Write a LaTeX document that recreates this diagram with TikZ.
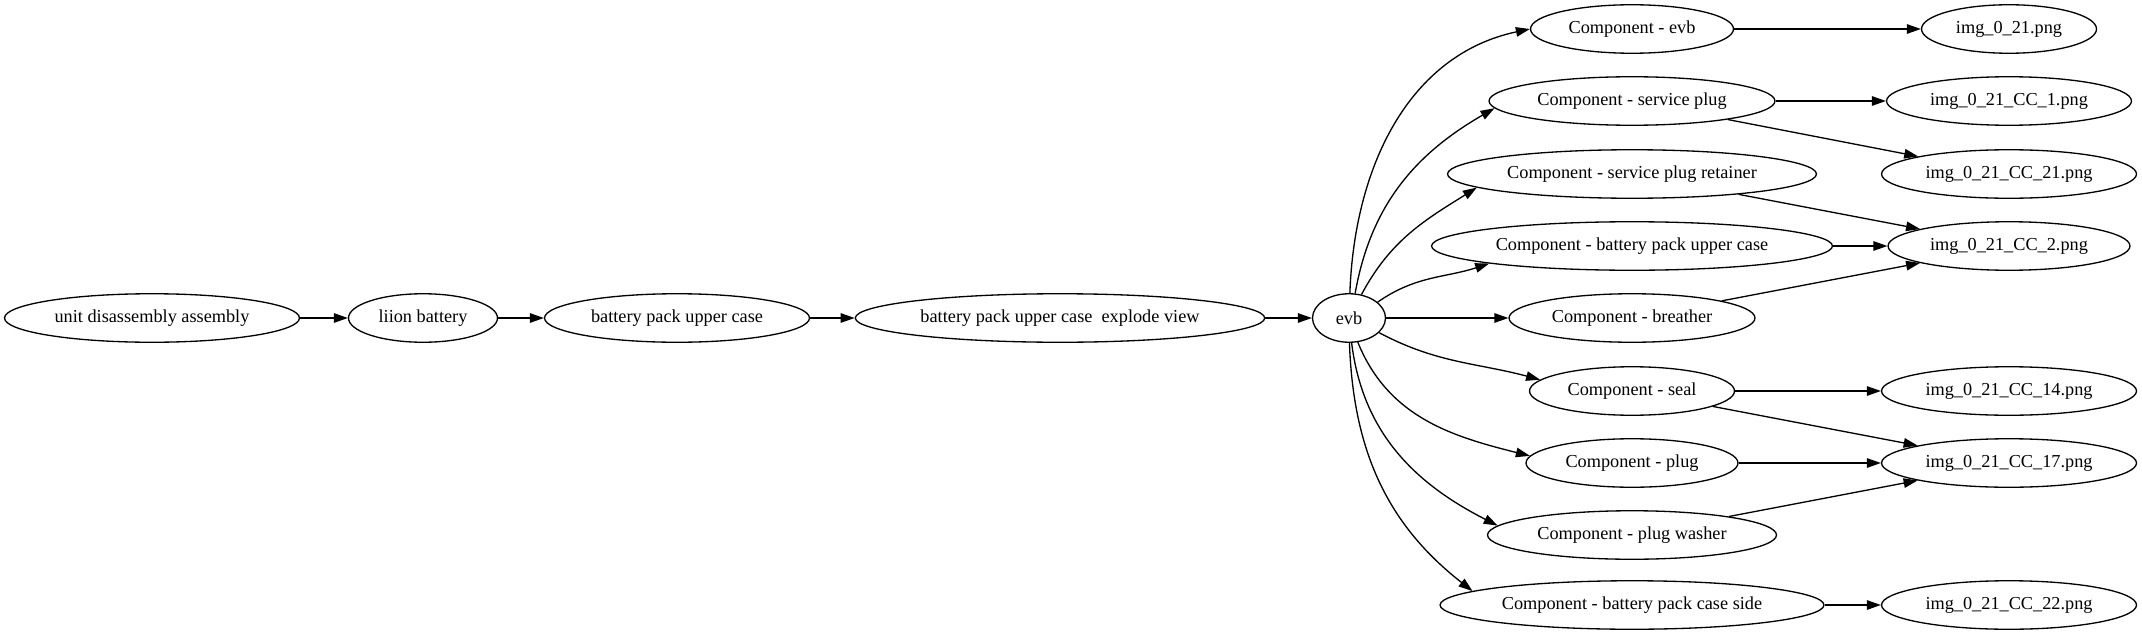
\documentclass[tikz,border=0pt]{standalone}
\usepackage{fontspec}
\setmainfont{Liberation Serif}
\usetikzlibrary{shapes.geometric,arrows.meta}
\tikzset{
    part/.style={ellipse, draw, line width=0.75pt, inner sep=0pt,
        minimum height=0.97cm, minimum width=#1,
        font=\fontsize{10.4}{12}\selectfont},
    link/.style={line width=0.75pt, -{Triangle[length=2.8mm,width=1.9mm]}}
}
\begin{document}
\begin{tikzpicture}[x=0.02cm, y=-0.02cm]
    \useasboundingbox (0,0) rectangle (2142,635);
    % main chain
    \node[part=5.9cm] (unit) at (152,318) {unit disassembly assembly};
    \node[part=2.98cm] (liion) at (423,318) {liion battery};
    \node[part=5.3cm] (upper) at (677,318) {battery pack upper case};
    \node[part=8.19cm] (explode) at (1060,318) {battery pack upper case~ explode view};
    \node[part=1.46cm] (evb) at (1349,318) {evb};
    % components
    \node[part=4.06cm] (cevb) at (1632,29) {Component - evb};
    \node[part=5.72cm] (csvc) at (1632,101) {Component - service plug};
    \node[part=7.38cm] (cret) at (1632,174) {Component - service plug retainer};
    \node[part=8.02cm] (cupper) at (1632,246) {Component - battery pack upper case};
    \node[part=4.92cm] (cbreath) at (1632,318) {Component - breather};
    \node[part=4.1cm] (cseal) at (1632,391) {Component - seal};
    \node[part=4.24cm] (cplug) at (1632,463) {Component - plug};
    \node[part=5.78cm] (cwasher) at (1632,535) {Component - plug washer};
    \node[part=7.68cm] (cside) at (1632,605) {Component - battery pack case side};
    % images
    \node[part=3.5cm] (img) at (2009,29) {img\_0\_21.png};
    \node[part=4.9cm] (cc1) at (2009,101) {img\_0\_21\_CC\_1.png};
    \node[part=5.1cm] (cc21) at (2009,174) {img\_0\_21\_CC\_21.png};
    \node[part=4.84cm] (cc2) at (2009,246) {img\_0\_21\_CC\_2.png};
    \node[part=5.1cm] (cc14) at (2009,391) {img\_0\_21\_CC\_14.png};
    \node[part=5.1cm] (cc17) at (2009,463) {img\_0\_21\_CC\_17.png};
    \node[part=5.1cm] (cc22) at (2009,605) {img\_0\_21\_CC\_22.png};

    \draw[link] (unit) -- (liion);
    \draw[link] (liion) -- (upper);
    \draw[link] (upper) -- (explode);
    \draw[link] (explode) -- (evb);

    % fan out of evb
    \draw[link] (evb.88) to[out=88, in=192] (cevb.180);
    \draw[link] (evb.76) to[out=80, in=210] (csvc.183);
    \draw[link] (evb.62) to[out=62, in=212] (cret.185);
    \draw[link] (evb.29) to[out=35, in=198] (cupper.187);
    \draw[link] (evb) -- (cbreath);
    \draw[link] (evb.-26) to[out=-28, in=165] (cseal.173);
    \draw[link] (evb.-70) to[out=-68, in=166] (cplug.176);
    \draw[link] (evb.-84) to[out=-83, in=153] (cwasher.176);
    \draw[link] (evb.-89) to[out=-88, in=142] (cside.175);

    \draw[link] (cevb) -- (img);
    \draw[link] (csvc) -- (cc1);
    \draw[link] (csvc) -- (cc21);
    \draw[link] (cret) -- (cc2);
    \draw[link] (cupper) -- (cc2);
    \draw[link] (cbreath) -- (cc2);
    \draw[link] (cseal) -- (cc14);
    \draw[link] (cseal) -- (cc17);
    \draw[link] (cplug) -- (cc17);
    \draw[link] (cwasher) -- (cc17);
    \draw[link] (cside) -- (cc22);
\end{tikzpicture}
\end{document}
